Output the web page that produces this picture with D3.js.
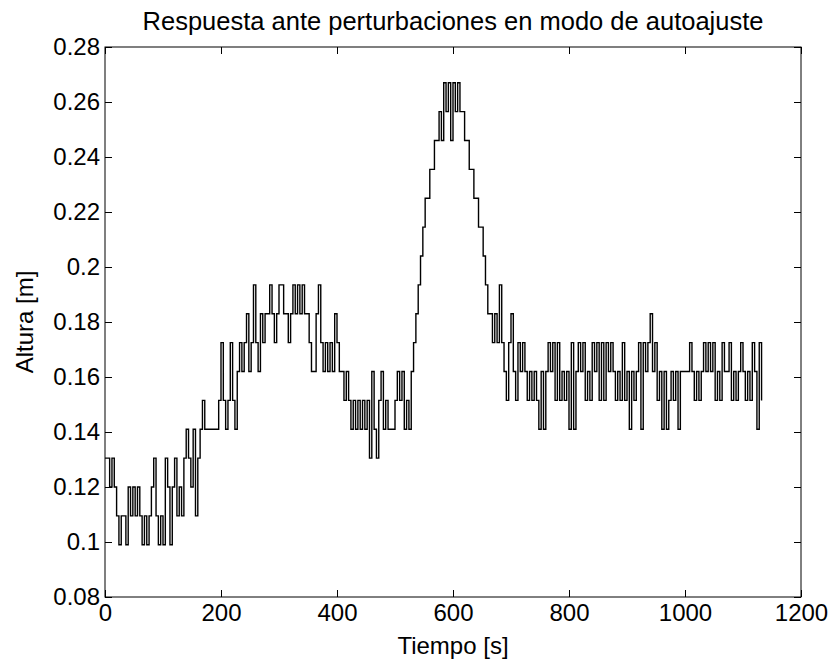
<!DOCTYPE html>
<html>
<head>
<meta charset="utf-8">
<script src="https://cdn.jsdelivr.net/npm/d3@7"></script>
<style>
  body { margin: 0; background: #fff; }
  svg text { font-family: "Liberation Sans", Arial, sans-serif; fill: #000; }
  .axis path { display: none; }
  .axis line { stroke: #000; stroke-width: 1; }
</style>
</head>
<body>
<div id="grafico"></div>
<script>
const titulo = 'Respuesta ante perturbaciones en modo de autoajuste'
const etiquetaX = 'Tiempo [s]'
const etiquetaY = 'Altura [m]'

const ticksX = [0, 200, 400, 600, 800, 1000, 1200]
const ticksY = [0.08, 0.1, 0.12, 0.14, 0.16, 0.18, 0.2, 0.22, 0.24, 0.26, 0.28]
const etiquetasY = ['0.08', '0.1', '0.12', '0.14', '0.16', '0.18', '0.2', '0.22', '0.24', '0.26', '0.28']

// periodo de muestreo [s]
const periodo = 4
// niveles de cuantizacion del sensor [m]
const niveles = [0.099, 0.1095, 0.12, 0.1305, 0.141, 0.1515, 0.162, 0.1725, 0.183,
  0.1935, 0.204, 0.2145, 0.225, 0.2355, 0.246, 0.2565, 0.267]
const muestras = [
  3, 3, 2, 3, 2, 1, 0, 1, 1, 0,
  2, 1, 2, 1, 2, 1, 0, 1, 0, 1,
  2, 3, 1, 0, 1, 0, 3, 2, 0, 2,
  3, 1, 2, 1, 3, 4, 3, 2, 4, 1,
  3, 4, 5, 4, 4, 4, 4, 4, 4, 5,
  7, 5, 4, 5, 7, 5, 4, 6, 7, 6,
  7, 8, 6, 7, 9, 7, 6, 8, 7, 8,
  8, 9, 8, 7, 8, 9, 9, 8, 8, 7,
  8, 9, 8, 9, 8, 9, 8, 8, 7, 6,
  6, 8, 9, 7, 6, 7, 6, 7, 6, 8,
  7, 6, 6, 5, 6, 5, 4, 5, 4, 5,
  4, 5, 4, 5, 3, 6, 4, 3, 5, 6,
  4, 5, 4, 4, 4, 5, 6, 5, 6, 4,
  5, 4, 6, 7, 8, 9, 10, 11, 12, 12,
  13, 13, 14, 14, 15, 14, 16, 15, 16, 14,
  16, 15, 16, 15, 15, 14, 14, 13, 13, 12,
  12, 11, 11, 10, 9, 8, 8, 7, 8, 7,
  9, 7, 6, 5, 7, 8, 6, 5, 7, 6,
  7, 6, 5, 6, 5, 6, 5, 4, 6, 4,
  6, 7, 6, 7, 5, 7, 5, 6, 5, 6,
  4, 7, 4, 6, 7, 6, 7, 5, 6, 5,
  7, 6, 7, 5, 7, 5, 7, 6, 7, 6,
  5, 6, 5, 7, 5, 6, 4, 6, 5, 6,
  7, 4, 7, 6, 7, 8, 6, 7, 5, 6,
  4, 6, 4, 5, 6, 5, 6, 4, 6, 6,
  6, 6, 7, 6, 5, 6, 5, 6, 7, 6,
  7, 6, 7, 5, 6, 5, 7, 6, 6, 7,
  5, 6, 5, 6, 7, 6, 5, 6, 5, 7,
  6, 4, 7, 5
]

const width = 834
const height = 665
const margin = { top: 47, right: 33, bottom: 68, left: 105 }

const datos = muestras.map((n, i) => ({ t: i * periodo, h: niveles[n] }))

const x = d3.scaleLinear()
  .domain([0, 1200])
  .range([margin.left, width - margin.right])

const y = d3.scaleLinear()
  .domain([0.08, 0.28])
  .range([height - margin.bottom, margin.top])

const svg = d3.select('#grafico')
  .append('svg')
  .attr('width', width)
  .attr('height', height)

svg.append('rect')
  .attr('width', width)
  .attr('height', height)
  .attr('fill', '#fff')

const linea = d3.line()
  .curve(d3.curveStepAfter)
  .x(d => x(d.t))
  .y(d => y(d.h))

svg.append('path')
  .datum(datos)
  .attr('fill', 'none')
  .attr('stroke', '#000')
  .attr('stroke-width', 1.4)
  .attr('d', linea)

// ejes con marcas hacia dentro, como en MATLAB
svg.append('g')
  .attr('class', 'axis axis--x')
  .attr('transform', `translate(0, ${height - margin.bottom})`)
  .call(d3.axisBottom(x).tickValues(ticksX).tickSizeInner(-7).tickSizeOuter(0).tickPadding(7)
    .tickFormat(d3.format('d')))
  .selectAll('text').attr('font-size', 24)

svg.append('g')
  .attr('class', 'axis')
  .attr('transform', `translate(0, ${margin.top})`)
  .call(d3.axisTop(x).tickValues(ticksX).tickSizeInner(-7).tickSizeOuter(0).tickFormat(''))

svg.append('g')
  .attr('class', 'axis axis--y')
  .attr('transform', `translate(${margin.left}, 0)`)
  .call(d3.axisLeft(y).tickValues(ticksY).tickSizeInner(-7).tickSizeOuter(0).tickPadding(5)
    .tickFormat((d, i) => etiquetasY[i]))
  .selectAll('text').attr('font-size', 24)

svg.append('g')
  .attr('class', 'axis')
  .attr('transform', `translate(${width - margin.right}, 0)`)
  .call(d3.axisRight(y).tickValues(ticksY).tickSizeInner(-7).tickSizeOuter(0).tickFormat(''))

svg.append('rect')
  .attr('x', margin.left)
  .attr('y', margin.top)
  .attr('width', width - margin.left - margin.right)
  .attr('height', height - margin.top - margin.bottom)
  .attr('fill', 'none')
  .attr('stroke', '#000')
  .attr('stroke-width', 1)

svg.append('text')
  .attr('text-anchor', 'middle')
  .attr('x', (margin.left + width - margin.right) / 2)
  .attr('y', 30)
  .attr('font-size', 25.5)
  .text(titulo)

svg.append('text')
  .attr('text-anchor', 'middle')
  .attr('x', (margin.left + width - margin.right) / 2)
  .attr('y', 654)
  .attr('font-size', 24)
  .text(etiquetaX)

svg.append('text')
  .attr('text-anchor', 'middle')
  .attr('transform', `translate(33, ${(margin.top + height - margin.bottom) / 2}) rotate(-90)`)
  .attr('font-size', 24)
  .text(etiquetaY)
</script>
</body>
</html>
